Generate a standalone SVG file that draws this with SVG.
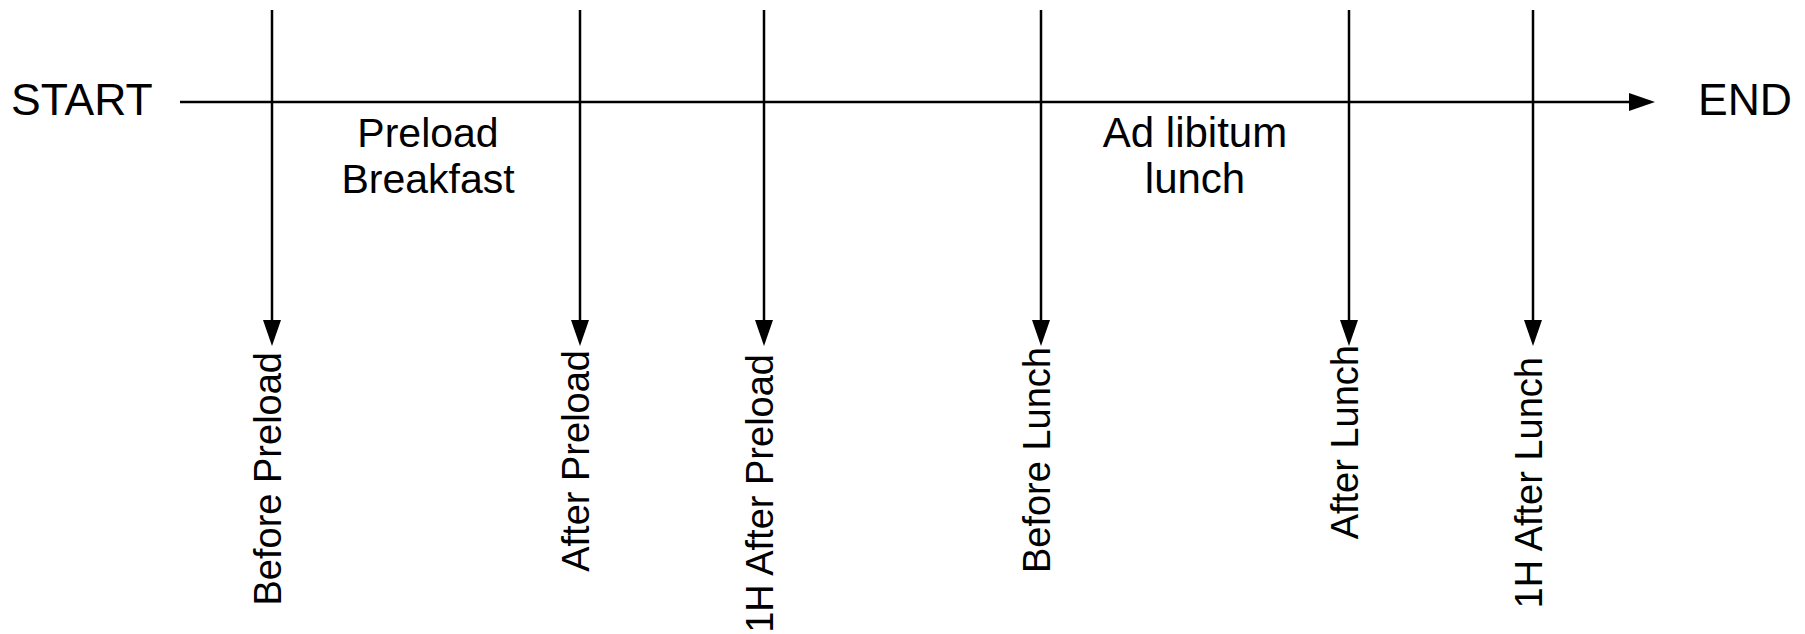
<svg xmlns="http://www.w3.org/2000/svg" width="1805" height="634" viewBox="0 0 1805 634">
  <style>
    .lbl { font-family: "Liberation Sans", Arial, sans-serif; fill: #000; }
    .big { font-size: 44.5px; }
    .mid { font-size: 41px; text-anchor: middle; }
    .tp { font-size: 38px; text-anchor: end; }
    .wire { stroke: #000; stroke-width: 2.5; fill: none; }
  </style>
  <defs>
    <marker id="head" markerUnits="userSpaceOnUse" markerWidth="28" markerHeight="20" refX="0" refY="9" orient="auto" overflow="visible">
      <path d="M0,0 L26,9 L0,18 Z" fill="#000"/>
    </marker>
  </defs>

  <rect width="1805" height="634" fill="#fff"/>

  <!-- timeline and measurement arrows -->
  <g id="connectors">
    <line class="wire" x1="180" y1="102" x2="1629" y2="102" marker-end="url(#head)"/>
    <line class="wire" x1="272" y1="10" x2="272" y2="320" marker-end="url(#head)"/>
    <line class="wire" x1="580" y1="10" x2="580" y2="320" marker-end="url(#head)"/>
    <line class="wire" x1="764" y1="10" x2="764" y2="320" marker-end="url(#head)"/>
    <line class="wire" x1="1041" y1="10" x2="1041" y2="320" marker-end="url(#head)"/>
    <line class="wire" x1="1349" y1="10" x2="1349" y2="320" marker-end="url(#head)"/>
    <line class="wire" x1="1533" y1="10" x2="1533" y2="320" marker-end="url(#head)"/>
  </g>

  <g id="start"><text class="lbl big" x="11" y="115">START</text></g>
  <g id="end"><text class="lbl big" x="1698" y="115">END</text></g>

  <g id="phase-breakfast">
    <text class="lbl mid" x="428" y="147">Preload</text>
    <text class="lbl mid" x="428" y="193">Breakfast</text>
  </g>
  <g id="phase-lunch">
    <text class="lbl mid" x="1195" y="147" style="font-size:42px">Ad libitum</text>
    <text class="lbl mid" x="1195" y="193" style="font-size:42px">lunch</text>
  </g>

  <g id="before-preload"><text class="lbl tp" transform="translate(281,352) rotate(-90)">Before Preload</text></g>
  <g id="after-preload"><text class="lbl tp" transform="translate(589,350) rotate(-90)">After Preload</text></g>
  <g id="after-preload-1h"><text class="lbl tp" transform="translate(773,354) rotate(-90)">1H After Preload</text></g>
  <g id="before-lunch"><text class="lbl tp" transform="translate(1050,347) rotate(-90)">Before Lunch</text></g>
  <g id="after-lunch"><text class="lbl tp" transform="translate(1358,345) rotate(-90)">After Lunch</text></g>
  <g id="after-lunch-1h"><text class="lbl tp" transform="translate(1542,357) rotate(-90)">1H After Lunch</text></g>
</svg>
